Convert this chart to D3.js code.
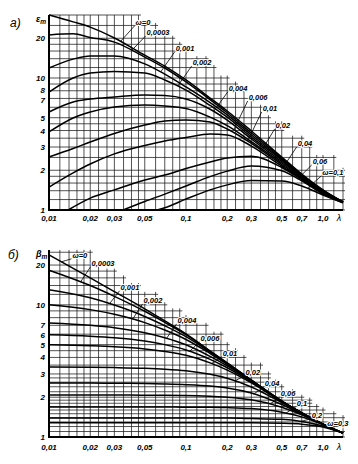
<!DOCTYPE html>
<html><head><meta charset="utf-8">
<script src="https://cdn.jsdelivr.net/npm/d3@7"></script>
<style>body{margin:0;background:#fff}svg{display:block}</style>
</head><body><svg id="c" width="358" height="464"></svg>
<script>
// ---------- tick labels ----------
const lamTicks = [0.01,0.02,0.03,0.05,0.1,0.2,0.3,0.5,0.7,1.0];
const lamTickLabels = ["0,01","0,02","0,03","0,05","0,1","0,2","0,3","0,5","0,7","1,0"];
const epsTicks = [1,2,3,4,5,7,8,10,20];
const betaTicks = [1,2,3,4,5,6,7,10,20];

// ---------- panel a: eps_m ----------
const lamA = [0.01,0.015,0.02,0.03,0.05,0.07,0.1,0.15,0.2,0.3,0.5,0.7,1.0,1.4];
const epsW0     = [30.0,26.6,24.3,20.1,14.9,12.3,9.66,7.05,5.62,3.97,2.52,1.87,1.42,1.15];
const epsW00003 = [21.2,21.6,20.3,18.7,14.4,11.9,9.33,6.85,5.45,3.83,2.48,1.85,1.41,1.15];
const epsW0001  = [11.9,13.9,14.7,14.7,12.8,10.7,8.55,6.5,5.25,3.70,2.43,1.83,1.40,1.15];
const epsW0002  = [7.83,10.0,10.9,11.2,10.9,9.66,8.1,6.2,5.05,3.57,2.39,1.81,1.39,1.15];
const epsW0004  = [5.53,6.58,6.93,7.18,7.43,7.37,6.93,5.8,4.8,3.45,2.33,1.79,1.38,1.15];
const epsW0006  = [3.90,4.98,5.53,6.03,6.24,6.14,5.87,5.05,4.35,3.30,2.27,1.77,1.37,1.15];
const epsW001   = [2.52,2.92,3.27,3.80,4.40,4.72,4.81,4.64,4.11,3.20,2.21,1.75,1.36,1.15];
const epsW002   = [1.49,1.91,2.23,2.66,3.08,3.33,3.54,3.76,3.70,3.05,2.15,1.73,1.35,1.15];
const epsW004   = [[0.0138,1],[0.02,1.23],[0.03,1.42],[0.05,1.69],[0.07,1.84],[0.1,2.06],[0.15,2.31],[0.2,2.48],[0.3,2.55],[0.5,2.10],[0.7,1.70],[1.0,1.34],[1.4,1.15]];
const epsW006   = [[0.0347,1],[0.05,1.16],[0.07,1.32],[0.1,1.52],[0.15,1.79],[0.2,1.97],[0.3,2.15],[0.5,1.98],[0.7,1.66],[1.0,1.32],[1.4,1.14]];
const epsW01    = [[0.0614,1],[0.07,1.04],[0.1,1.21],[0.15,1.42],[0.2,1.55],[0.3,1.67],[0.5,1.66],[0.7,1.52],[1.0,1.30],[1.4,1.13]];
// curve labels: text, lambda, eps (label centre)
const labelsA = [["ω=0",0.0485,26.6],["0,0003",0.0625,22.3],["0,001",0.0984,16.9],["0,002",0.131,13.2],
  ["0,004",0.240,8.40],["0,006",0.336,7.18],["0,01",0.410,5.93],["0,02",0.510,4.40],
  ["0,04",0.739,3.22],["0,06",0.951,2.35],["ω=0,1",1.18,1.94]];

// ---------- panel b: beta_m ----------
const lamB = [0.01,0.02,0.03,0.05,0.07,0.1,0.15,0.2,0.3,0.5,0.7,1.0,1.4];
const betaW0     = [23.9,16.0,12.6,9.33,7.56,6.03,4.48,3.64,2.70,1.87,1.52,1.25,1.07];
const betaW00003 = [18.3,14.0,11.6,8.94,7.37,5.94,4.45,3.63,2.70,1.87,1.52,1.25,1.07];
const betaW0001  = [13.0,11.3,9.96,8.17,6.95,5.74,4.38,3.59,2.69,1.87,1.52,1.25,1.07];
const betaW0002  = [10.0,9.2,8.48,7.34,6.45,5.47,4.28,3.55,2.67,1.87,1.52,1.25,1.07];
const betaW0004  = [7.30,7.00,6.71,6.15,5.64,4.99,4.07,3.45,2.65,1.86,1.52,1.25,1.07];
const betaW0006  = [5.93,5.78,5.63,5.32,5.00,4.56,3.87,3.34,2.61,1.86,1.52,1.25,1.07];
const betaW001   = [4.98,4.90,4.82,4.64,4.44,4.15,3.64,3.21,2.57,1.85,1.52,1.25,1.07];
const betaW002   = [3.39,3.37,3.35,3.31,3.26,3.17,2.98,2.78,2.39,1.82,1.51,1.25,1.07];
const betaW004   = [2.56,2.56,2.55,2.54,2.52,2.49,2.43,2.35,2.15,1.76,1.49,1.25,1.07];
const betaW006   = [2.08,2.08,2.08,2.07,2.07,2.06,2.03,2.00,1.91,1.68,1.47,1.24,1.07];
const betaW01    = [1.69,1.69,1.69,1.69,1.69,1.68,1.68,1.67,1.64,1.54,1.42,1.24,1.07];
const betaW02    = [1.39,1.39,1.39,1.39,1.39,1.39,1.39,1.39,1.38,1.36,1.31,1.21,1.07];
const betaW03    = [1.28,1.28,1.28,1.28,1.28,1.28,1.28,1.28,1.28,1.27,1.25,1.19,1.07];
const labelsB = [["ω=0",0.0168,23.9],["0,0003",0.0248,20.8],["0,001",0.039,13.7],["0,002",0.0574,10.9],
  ["0,004",0.1017,7.70],["0,006",0.1496,5.62],["0,01",0.2094,4.33],["0,02",0.308,3.11],
  ["0,04",0.425,2.56],["0,06",0.556,2.15],["0,1",0.703,1.81],["0,2",0.904,1.47],["ω=0,3",1.285,1.28]];

// ---------- grid values ----------
const gridSteps = [1,1.2,1.4,1.6,1.8,2,2.3,2.65,3,3.5,4,4.5,5,6,7,8,9];
const vGrid = [0.01,0.1].flatMap(d=>gridSteps.map(s=>+(s*d).toPrecision(4))).concat([1.0,1.2,1.4]);
const hGridA = [1,1.2,1.4,1.6,1.8,2,2.5,3,3.5,4,4.5,5,6,7,8,9,10,12,14,16,18,20,25,30];
const hGridB = [1,1.1,1.2,1.3,1.4,1.5,1.6,1.7,1.8,1.9,2,2.2,2.4,2.6,2.8,3,3.5,4,4.5,5,6,7,8,9,10,12,14,16,18,20,25];

const zip = (lams, vals) => vals.map((v,i)=>[lams[i],v]);
const seriesA = [epsW0,epsW00003,epsW0001,epsW0002,epsW0004,epsW0006,epsW001,epsW002].map(v=>zip(lamA,v))
  .concat([epsW004,epsW006,epsW01]);
const seriesB = [betaW0,betaW00003,betaW0001,betaW0002,betaW0004,betaW0006,betaW001,betaW002,betaW004,betaW006,betaW01,betaW02,betaW03]
  .map(v=>zip(lamB,v));

function ipl(s, lam){
  if(lam<=s[0][0]) return s[0][1];
  for(let i=0;i<s.length-1;i++){
    const [a,va]=s[i],[b,vb]=s[i+1];
    if(lam<=b){const t=(Math.log(lam)-Math.log(a))/(Math.log(b)-Math.log(a));
      return Math.exp(Math.log(va)+t*(Math.log(vb)-Math.log(va)));}
  }
  return s[s.length-1][1];
}

const svg = d3.select("#c");
const FONT = "'Liberation Sans', Arial, sans-serif";

function panel(o){
  const g = svg.append("g");
  const x = d3.scaleLog().domain([0.01,1.4]).range([49,343]);
  const y = d3.scaleLog().domain([1,o.top]).range([o.bottom,o.topPx]);
  const env = o.series[0];
  // staircase grid
  const vTop = vGrid.map(l=>{const b=o.K*ipl(env,l); const h=o.hGrid.find(v=>v>=b-1e-9); return h===undefined?o.top:h;});
  const gg = g.append("g").attr("stroke","#1a1a1a").attr("stroke-width",0.75);
  vGrid.forEach((l,i)=>{
    const yt = vTop[i]>=o.top ? y(o.top) : y(vTop[i])-2.5;
    gg.append("line").attr("x1",x(l)).attr("x2",x(l)).attr("y1",y(1)).attr("y2",yt);
  });
  o.hGrid.forEach(h=>{
    let last=-1; vGrid.forEach((l,i)=>{if(vTop[i]>=h-1e-9) last=i;});
    if(last<0) return;
    gg.append("line").attr("x1",x(0.01)).attr("x2",Math.min(x(vGrid[last])+2.5,345)).attr("y1",y(h)).attr("y2",y(h));
  });
  // axes
  g.append("line").attr("x1",x(0.01)).attr("x2",x(0.01)).attr("y1",y(1)+1).attr("y2",y(o.top)).attr("stroke","#000").attr("stroke-width",2);
  g.append("line").attr("x1",x(0.01)-1).attr("x2",x(1.4)).attr("y1",y(1)).attr("y2",y(1)).attr("stroke","#000").attr("stroke-width",1.8);
  // curves
  const line = d3.line().x(d=>x(d[0])).y(d=>y(d[1])).curve(d3.curveMonotoneX);
  g.append("g").selectAll("path").data(o.series).join("path")
    .attr("d",line).attr("fill","none").attr("stroke","#000").attr("stroke-width",1.5);
  // tick labels
  g.append("g").selectAll("text").data(lamTicks).join("text")
    .attr("x",d=>x(d)).attr("y",y(1)+o.xlabDy).attr("text-anchor","middle")
    .attr("font-family",FONT).attr("font-style","italic").attr("font-weight","bold").attr("font-size",8)
    .text((d,i)=>lamTickLabels[i]);
  g.append("text").attr("x",x(1.4)-4).attr("y",y(1)+o.xlabDy).attr("text-anchor","middle")
    .attr("font-family",FONT).attr("font-style","italic").attr("font-size",9).text("λ");
  g.append("g").selectAll("text").data(o.yTicks).join("text")
    .attr("x",45).attr("y",d=>y(d)+3+(o.nudge[d]||0)).attr("text-anchor","end")
    .attr("font-family",FONT).attr("font-style","italic").attr("font-weight","bold").attr("font-size",8)
    .text(d=>d);
  // axis title
  const t = g.append("text").attr("x",o.titleX).attr("y",o.titleY).attr("font-family",FONT).attr("font-style","italic").attr("font-weight","bold").attr("font-size",9);
  t.append("tspan").text(o.title);
  t.append("tspan").attr("dy",2).attr("font-size",6.5).text("m");
  g.append("text").attr("x",o.letterX).attr("y",o.letterY).attr("font-family",FONT).attr("font-style","italic").attr("font-size",12).text(o.letter);
  // curve labels with leaders
  o.labels.forEach((lb,i)=>{
    const cx=x(lb[1]), cy=y(lb[2]);
    const tx = g.append("text").attr("x",cx).attr("y",cy+3).attr("text-anchor","middle")
      .attr("font-family",FONT).attr("font-style","italic").attr("font-weight","bold").attr("font-size",7.5)
      .attr("stroke","#fff").attr("stroke-width",2.2).attr("paint-order","stroke").attr("stroke-linejoin","round")
      .text(lb[0]);
    const w = tx.node().getComputedTextLength();
    const sx = cx-w/2-1, sy = cy+4;
    const ex = sx - o.lead; const el = x.invert(ex);
    const ey = y(ipl(o.series[i], el));
    g.append("line").attr("x1",sx).attr("y1",sy).attr("x2",ex).attr("y2",ey).attr("stroke","#000").attr("stroke-width",0.8);
  });
}

panel({series:seriesA, hGrid:hGridA, top:30, bottom:210, topPx:15, K:1.62, yTicks:epsTicks, labels:labelsA, nudge:{8:-1.2,7:1.2},
  xlabDy:11, title:"ε", titleX:36, titleY:22, letter:"а)", letterX:10, letterY:27, lead:14});
panel({series:seriesB, hGrid:hGridB, top:26, bottom:437, topPx:250, K:1.28, yTicks:betaTicks, labels:labelsB, nudge:{7:-0.8,6:0.4},
  xlabDy:13, title:"β", titleX:36, titleY:257, letter:"б)", letterX:8, letterY:259, lead:10});
</script>
</body></html>
